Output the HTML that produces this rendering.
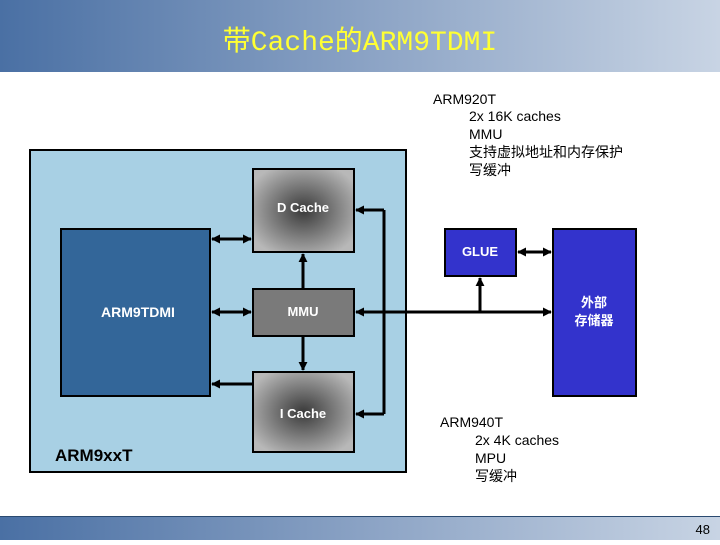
<!DOCTYPE html>
<html><head><meta charset="utf-8"><style>
body{margin:0;width:720px;height:540px;overflow:hidden;background:#fff;font-family:"Liberation Sans","Noto Sans CJK SC",sans-serif;}
</style></head><body>
<svg width="720" height="540" xmlns="http://www.w3.org/2000/svg">
<defs>
<linearGradient id="hdr" x1="0" x2="1" y1="0" y2="0"><stop offset="0" stop-color="#4a70a4"/><stop offset="0.5" stop-color="#8aa2c4"/><stop offset="1" stop-color="#c8d4e4"/></linearGradient>
<radialGradient id="cache" cx="0.5" cy="0.5" r="0.6"><stop offset="0" stop-color="#3a3a3a"/><stop offset="1" stop-color="#b8b8b8"/></radialGradient>
<marker id="a" viewBox="0 0 10 10" refX="9" refY="5" markerWidth="3" markerHeight="3" orient="auto-start-reverse"><path d="M0,0L10,5L0,10z" fill="#000"/></marker>
</defs>
<rect x="0" y="0" width="720" height="72" fill="url(#hdr)"/>
<text x="360" y="50" text-anchor="middle" font-family="'Liberation Mono','Noto Sans CJK SC',monospace" font-size="28" fill="#ffff33">带Cache的ARM9TDMI</text>
<rect x="0" y="516" width="720" height="24" fill="url(#hdr)"/>
<line x1="0" y1="516.5" x2="720" y2="516.5" stroke="#2a4a70"/>
<text x="710" y="534" text-anchor="end" font-size="13" fill="#000">48</text>

<g font-size="14" fill="#000">
<text x="433" y="104">ARM920T</text>
<text x="469" y="121">2x 16K caches</text>
<text x="469" y="139">MMU</text>
<text x="469" y="157">支持虚拟地址和内存保护</text>
<text x="469" y="175">写缓冲</text>
<text x="440" y="427">ARM940T</text>
<text x="475" y="445">2x 4K caches</text>
<text x="475" y="463">MPU</text>
<text x="475" y="481">写缓冲</text>
</g>

<rect x="30" y="150" width="376" height="322" fill="#a8d0e4" stroke="#000" stroke-width="2"/>
<rect x="61" y="229" width="149" height="167" fill="#336699" stroke="#000" stroke-width="2"/>
<text x="138" y="317" text-anchor="middle" font-size="14" font-weight="bold" fill="#fff">ARM9TDMI</text>
<text x="55" y="461" font-size="17" font-weight="bold" fill="#000">ARM9xxT</text>

<rect x="253" y="169" width="101" height="83" fill="url(#cache)" stroke="#000" stroke-width="2"/>
<text x="303" y="212" text-anchor="middle" font-size="13" font-weight="bold" fill="#fff">D Cache</text>
<rect x="253" y="289" width="101" height="47" fill="#7a7a7a" stroke="#000" stroke-width="2"/>
<text x="303" y="316" text-anchor="middle" font-size="13" font-weight="bold" fill="#fff">MMU</text>
<rect x="253" y="372" width="101" height="80" fill="url(#cache)" stroke="#000" stroke-width="2"/>
<text x="303" y="418" text-anchor="middle" font-size="13" font-weight="bold" fill="#fff">I Cache</text>

<rect x="445" y="229" width="71" height="47" fill="#3333cc" stroke="#000" stroke-width="2"/>
<text x="480" y="256" text-anchor="middle" font-size="13" font-weight="bold" fill="#fff">GLUE</text>
<rect x="553" y="229" width="83" height="167" fill="#3333cc" stroke="#000" stroke-width="2"/>
<text x="594" y="307" text-anchor="middle" font-size="13" font-weight="bold" fill="#fff">外部</text>
<text x="594" y="325" text-anchor="middle" font-size="13" font-weight="bold" fill="#fff">存储器</text>

<g stroke="#000" stroke-width="3" fill="none">
<line x1="212" y1="239" x2="251" y2="239" marker-start="url(#a)" marker-end="url(#a)"/>
<line x1="212" y1="312" x2="251" y2="312" marker-start="url(#a)" marker-end="url(#a)"/>
<line x1="253" y1="384" x2="212" y2="384" marker-end="url(#a)"/>
<line x1="303" y1="289" x2="303" y2="254" marker-end="url(#a)"/>
<line x1="303" y1="336" x2="303" y2="370" marker-end="url(#a)"/>
<polyline points="384,210 384,414"/>
<line x1="384" y1="210" x2="356" y2="210" marker-end="url(#a)"/>
<line x1="384" y1="414" x2="356" y2="414" marker-end="url(#a)"/>
<line x1="356" y1="312" x2="551" y2="312" marker-start="url(#a)" marker-end="url(#a)"/>
<line x1="480" y1="312" x2="480" y2="278" marker-end="url(#a)"/>
<line x1="518" y1="252" x2="551" y2="252" marker-start="url(#a)" marker-end="url(#a)"/>
</g>
</svg>
</body></html>
